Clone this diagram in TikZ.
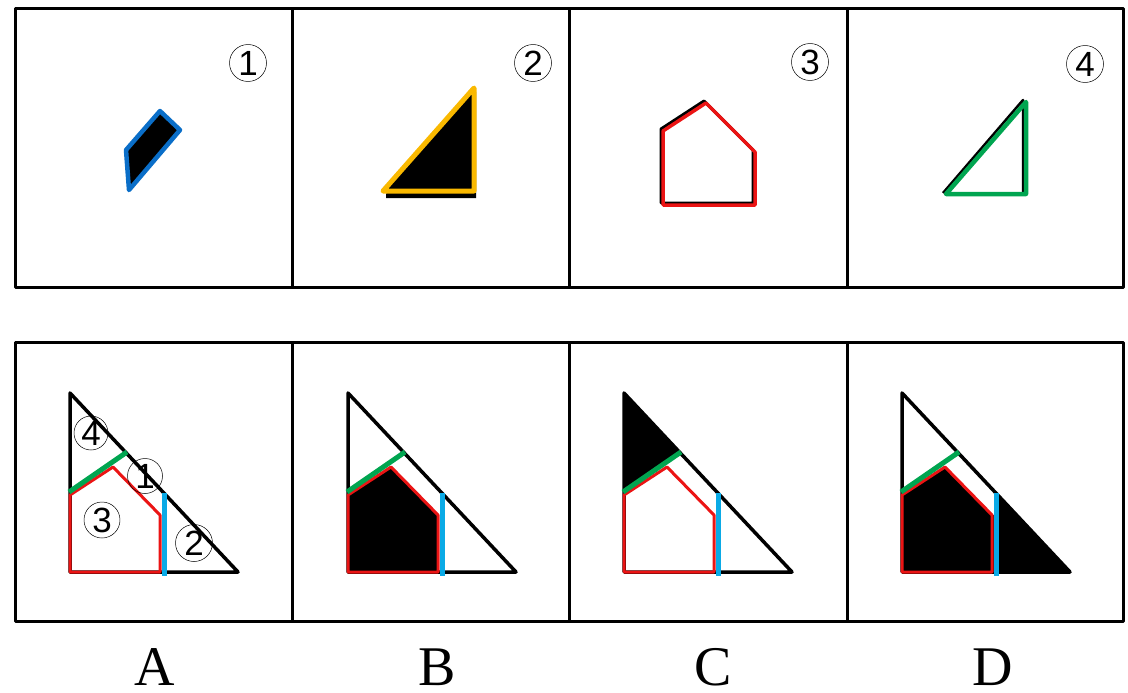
\documentclass[tikz,border=0pt]{standalone}
\usepackage{fontspec}
\setmainfont{Liberation Serif}
\setsansfont{Liberation Sans}
\definecolor{pblue}{RGB}{10,110,200}
\definecolor{pcyan}{RGB}{10,170,230}
\definecolor{pyellow}{RGB}{250,185,0}
\definecolor{pred}{RGB}{235,20,20}
\definecolor{pgreen}{RGB}{0,165,80}
\tikzset{
  num/.style={circle,draw,line width=0.5pt,minimum size=37pt,inner sep=0pt,font=\sffamily\fontsize{35}{35}\selectfont},
  letter/.style={anchor=base,inner sep=0pt,font=\fontsize{56}{56}\selectfont},
  frame/.style={line width=3pt},
}
\begin{document}
\begin{tikzpicture}[x=1pt,y=-1pt,line join=round]
\useasboundingbox (0,0) rectangle (1128,693);

% frames
\draw[frame] (15,9) rectangle (1123,287);
\draw[frame] (15,342) rectangle (1123,621);
\foreach \x in {292,569,847} {
  \draw[frame] (\x,9) -- (\x,287);
  \draw[frame] (\x,342) -- (\x,621);
}

% the four pieces
\filldraw[fill=black,draw=pblue,line width=4.5pt] (126,150) -- (160,111) -- (180,130) -- (129,190) -- cycle;
\fill (386,194) -- (476,92) -- (476,198) -- (386,198) -- cycle;
\filldraw[fill=black,draw=pyellow,line width=5pt] (383,191) -- (474,88) -- (474,191) -- cycle;
\draw[line width=3pt] (661,203) -- (661,129) -- (704,101) -- (753,150) -- (753,203) -- cycle;
\draw[pred,line width=3.5pt] (663,205) -- (663,131) -- (706,103) -- (755,152) -- (755,205) -- cycle;
\draw[line width=2.5pt] (943,193) -- (1023,100) -- (1023,193);
\draw[pgreen,line width=4.5pt] (946,194) -- (1026,102) -- (1026,194) -- cycle;

\node[num] (p1) at (248,63) {1};
\node[num] (p2) at (533,63) {2};
\node[num] (p3) at (810,62) {3};
\node[num] (p4) at (1085,64) {4};

% fillings of the answers
\fill (348,572) -- (348,495) -- (391,467) -- (438,515) -- (438,572) -- cycle;
\fill (624,393) -- (624,492) -- (681,452) -- cycle;
\fill (902,572) -- (902,495) -- (945,467) -- (992,515) -- (996,515) -- (996,493) -- (1070,572) -- cycle;

\foreach \s in {0,278,554,832} {
  \begin{scope}[xshift=\s]
    \draw[line width=3.5pt] (70,393) -- (70,572) -- (238,572) -- cycle;
    \draw[pred,line width=3pt] (70,572) -- (70,495) -- (113,467) -- (160,515) -- (160,572) -- cycle;
    \draw[pcyan,line width=5pt] (164,493) -- (164,576);
    \draw[pgreen,line width=5pt] (69,492) -- (127,452);
  \end{scope}
}

\node[num,minimum size=34pt] (a4) at (91,433) {4};
\node[num,minimum size=35pt] (a1) at (145,476) {1};
\node[num,minimum size=36pt] (a3) at (102,520) {3};
\node[num,minimum size=37pt] (a2) at (194,543) {2};

\node[letter] (labA) at (155,685) {A};
\node[letter] (labB) at (437,685) {B};
\node[letter] (labC) at (713,685) {C};
\node[letter] (labD) at (993,685) {D};
\end{tikzpicture}
\end{document}
